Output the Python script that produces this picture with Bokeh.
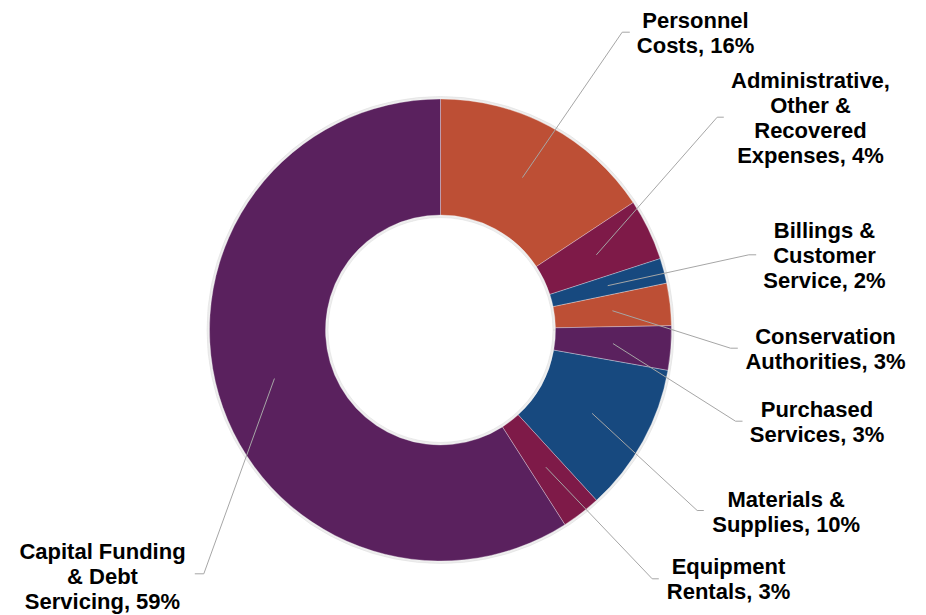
import math
from bokeh.plotting import figure
from bokeh.models import Range1d, ColumnDataSource
from bokeh.embed import file_html
from bokeh.resources import INLINE
from bokeh.core.properties import value

# ---- data ----
categories = ["Personnel Costs", "Administrative, Other & Recovered Expenses",
              "Billings & Customer Service", "Conservation Authorities",
              "Purchased Services", "Materials & Supplies", "Equipment Rentals",
              "Capital Funding & Debt Servicing"]
shares = [15.7, 4.3, 1.75, 2.95, 3.1, 10.4, 2.75, 59.05]
label_texts = ["Personnel\nCosts, 16%",
               "Administrative,\nOther &\nRecovered\nExpenses, 4%",
               "Billings &\nCustomer\nService, 2%",
               "Conservation\nAuthorities, 3%",
               "Purchased\nServices, 3%",
               "Materials &\nSupplies, 10%",
               "Equipment\nRentals, 3%",
               "Capital Funding\n& Debt\nServicing, 59%"]

# ---- styles / layout (pixel space, y downwards converted below) ----
colors = ["#BD4F35", "#7E1A48", "#17497F", "#BD4F35", "#5A215E", "#17497F", "#7E1A48", "#5A215E"]
cx, cy = 440.0, 329.5
r_in, r_out = 115.0, 231.0
elbows = [(621.7, 31.7), (716.7, 116.7), (748.3, 254.3), (730.0, 347.7),
          (735.0, 420.7), (696.7, 510.0), (651.7, 578.3), (203.3, 573.3)]
ends_x = [629.3, 723.3, 755.7, 737.3, 742.0, 703.3, 658.3, 194.3]
label_pos = [(695, 32), (810, 117.5), (824, 255), (825, 348.3),
             (816.5, 421.7), (785.7, 511), (728, 578.7), (102, 575.5)]
line_step = 25.0

W, H = 926, 615
p = figure(width=W, height=H, output_backend="svg", toolbar_location=None,
           x_range=Range1d(0, W), y_range=Range1d(-H, 0),
           x_axis_location=None, y_axis_location=None, min_border=0)
p.grid.visible = False
p.outline_line_color = None
p.background_fill_color = "white"
p.border_fill_color = "white"

total = sum(shares)
starts, ends, mids = [], [], []
cum = 0.0
for s in shares:
    a0 = cum / total
    cum += s
    a1 = cum / total
    starts.append(math.pi / 2 - 2 * math.pi * a1)
    ends.append(math.pi / 2 - 2 * math.pi * a0)
    mids.append(math.pi / 2 - 2 * math.pi * (a0 + a1) / 2)

# soft shadow rings
p.annular_wedge(x=cx, y=-cy, inner_radius=r_out - 1, outer_radius=r_out + 2.5,
                start_angle=0, end_angle=2 * math.pi, color="#d9d9d9", alpha=0.45)
p.annular_wedge(x=cx, y=-cy, inner_radius=r_in - 2.5, outer_radius=r_in + 1,
                start_angle=0, end_angle=2 * math.pi, color="#d9d9d9", alpha=0.45)

src = ColumnDataSource(dict(start=starts, end=ends, color=colors, cat=categories))
p.annular_wedge(x=cx, y=-cy, inner_radius=r_in, outer_radius=r_out,
                start_angle="start", end_angle="end", fill_color="color",
                line_color="white", line_alpha=0.5, line_width=0.6, source=src)

# leader lines
rm = (r_in + r_out) / 2
xs, ys = [], []
for m, (ex, ey), endx in zip(mids, elbows, ends_x):
    px = cx + rm * math.cos(m)
    py = cy - rm * math.sin(m)
    xs.append([px, ex, endx])
    ys.append([-py, -ey, -ey])
p.multi_line(xs=xs, ys=ys, line_color="#A6A6A6", line_width=1)

# labels, one text per line
tx, ty, tt = [], [], []
for txt, (lx, ly) in zip(label_texts, label_pos):
    parts = txt.split("\n")
    n = len(parts)
    for i, part in enumerate(parts):
        tx.append(lx)
        ty.append(-(ly + (i - (n - 1) / 2) * line_step))
        tt.append(part)
p.text(x=tx, y=ty, text=tt, text_align="center", text_baseline="middle",
       text_font=value("Liberation Sans"), text_font_style="bold",
       text_font_size="22px", text_color="black")

open("out.html", "w").write(file_html(p, INLINE))
